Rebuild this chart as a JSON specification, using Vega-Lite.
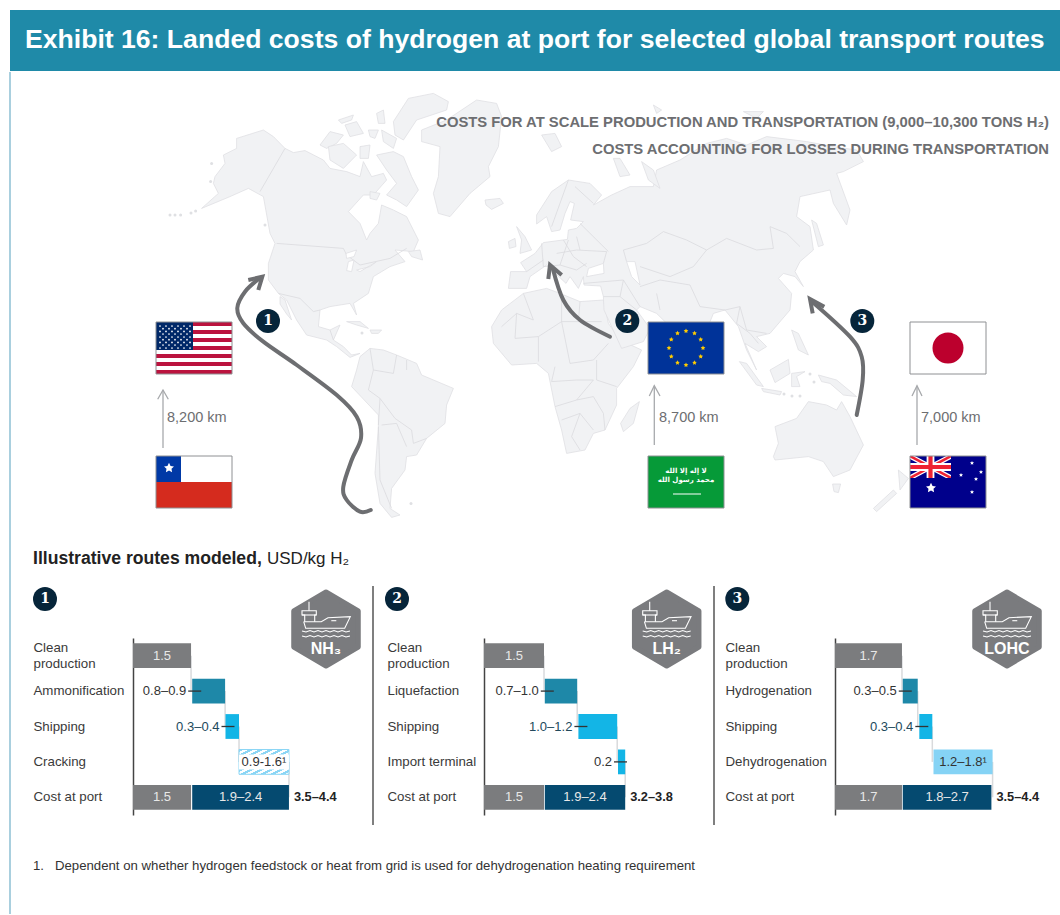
{
"$schema":"https://vega.github.io/schema/vega-lite/v6.json",
"padding":0,
"background":"white",
"bounds":"flush",
"spacing":0,
"resolve":{"scale":{"color":"independent"}},
"config":{"font":"Liberation Sans","view":{"stroke":null}},
"datasets":{
"land":[
{"type":"Feature","properties":{"name":"North America"},"geometry":{"type":"Polygon","coordinates":[[[-157.5,101.7],[-152.5,108.3],[-153.3,112.5],[-146.7,115.8],[-146.7,120.8],[-133.3,125],[-128.3,121.7],[-122.5,115.8],[-118.3,113.7],[-112.5,114.7],[-103.3,110],[-100,105.8],[-91.7,104.2],[-85,101.7],[-83.3,109.2],[-79.2,101.7],[-73.3,103.3],[-71.7,100],[-78.3,92.5],[-83.3,92.5],[-90.8,84.2],[-85,78.3],[-81.7,70],[-80,73.3],[-75.8,78.3],[-74.2,87.5],[-68.3,85],[-61.7,81.7],[-55.8,70],[-58.3,64.2],[-67.5,65],[-62.5,59.2],[-70,56.7],[-78.3,51.7],[-80.8,43.3],[-88.3,38.3],[-86.7,32.5],[-90,38.3],[-100,36.7],[-105,35],[-105.8,26.7],[-100,25],[-95,27.5],[-98.3,20],[-93.3,16.7],[-89.2,12.5],[-85,13.3],[-90,11.3],[-96.7,16.7],[-101.7,20],[-111.7,22.5],[-116.7,30],[-121.7,40],[-125.8,43.3],[-130.8,50],[-130.8,58.3],[-127.5,68.3],[-130,73.3],[-133.3,91.7],[-140.8,95.8],[-150,91.7],[-164.2,85.8],[-155.8,93.3],[-158.3,98.3],[-157.5,101.7]]]}},
{"type":"Feature","properties":{"name":"Baja"},"geometry":{"type":"Polygon","coordinates":[[[-125,41.7],[-122.5,40],[-119.2,30],[-121.7,33],[-125,38],[-125,41.7]]]}},
{"type":"Feature","properties":{"name":"Victoria"},"geometry":{"type":"Polygon","coordinates":[[[-105,117.5],[-100,124.2],[-93.3,122.5],[-96.7,118.3],[-101.7,115.8],[-105,117.5]]]}},
{"type":"Feature","properties":{"name":"Arctic 2"},"geometry":{"type":"Polygon","coordinates":[[[-100.8,116.7],[-93.3,118.3],[-86.7,112.5],[-93.3,105.8],[-100,110],[-100.8,116.7]]]}},
{"type":"Feature","properties":{"name":"Arctic 3"},"geometry":{"type":"Polygon","coordinates":[[[-92.5,127.5],[-86.7,129.2],[-83.3,123.3],[-90,121.7],[-92.5,127.5]]]}},
{"type":"Feature","properties":{"name":"Arctic 4"},"geometry":{"type":"Polygon","coordinates":[[[-95.8,130],[-88.3,132.5],[-89.2,130],[-94.2,128.3],[-95.8,130]]]}},
{"type":"Feature","properties":{"name":"Arctic 5"},"geometry":{"type":"Polygon","coordinates":[[[-85,116.7],[-80,117.5],[-80.8,110.8],[-85,110.8],[-85,116.7]]]}},
{"type":"Feature","properties":{"name":"Arctic 6"},"geometry":{"type":"Polygon","coordinates":[[[-80.8,125],[-75.8,125],[-77.5,120.8],[-80,121.7],[-80.8,125]]]}},
{"type":"Feature","properties":{"name":"Arctic 7"},"geometry":{"type":"Polygon","coordinates":[[[-76.7,133.3],[-73.3,135],[-72.5,128.3],[-75.8,128.3],[-76.7,133.3]]]}},
{"type":"Feature","properties":{"name":"Arctic 8"},"geometry":{"type":"Polygon","coordinates":[[[-74.2,125],[-66.7,120.8],[-68.3,115.8],[-73.3,119.2],[-74.2,125]]]}},
{"type":"Feature","properties":{"name":"Ellesmere"},"geometry":{"type":"Polygon","coordinates":[[[-68.3,129.2],[-60.8,140.8],[-48.3,143.3],[-40.8,139.2],[-41.7,135],[-56.7,130],[-63.3,120],[-67.5,122.5],[-68.3,129.2]]]}},
{"type":"Feature","properties":{"name":"Baffin"},"geometry":{"type":"Polygon","coordinates":[[[-76.7,112.5],[-68.3,114.2],[-63.3,111.7],[-59.2,101.7],[-55.8,95],[-61.7,86.7],[-66.7,90],[-71.7,92.5],[-66.7,98.3],[-71.7,105],[-76.7,112.5]]]}},
{"type":"Feature","properties":{"name":"Southampton"},"geometry":{"type":"Polygon","coordinates":[[[-80,94.2],[-75,93.3],[-76.7,90],[-80,90.8],[-80,94.2]]]}},
{"type":"Feature","properties":{"name":"Newfoundland"},"geometry":{"type":"Polygon","coordinates":[[[-60.8,64.2],[-55,65],[-53.7,60],[-59.2,61.7],[-60.8,64.2]]]}},
{"type":"Feature","properties":{"name":"Greenland"},"geometry":{"type":"Polygon","coordinates":[[[-54.2,125],[-41.7,130],[-26.7,140],[-16.7,138.3],[-14.2,131.7],[-15.8,116.7],[-20.8,106.7],[-20,101.7],[-30,93.3],[-40,81.7],[-45.8,83.3],[-48.3,93.3],[-45.8,101.7],[-45,116.7],[-54.2,119.2],[-54.2,125]]]}},
{"type":"Feature","properties":{"name":"Iceland"},"geometry":{"type":"Polygon","coordinates":[[[-22.5,90],[-15,90.8],[-13.3,88.3],[-19.2,85.3],[-22,87.5],[-22.5,90]]]}},
{"type":"Feature","properties":{"name":"Cuba"},"geometry":{"type":"Polygon","coordinates":[[[-91.7,29.2],[-85,29.2],[-80.8,25.8],[-86.7,27.5],[-91.7,29.2]]]}},
{"type":"Feature","properties":{"name":"Hispaniola"},"geometry":{"type":"Polygon","coordinates":[[[-80,25],[-74.2,25],[-75.8,23.3],[-79.2,23.3],[-80,25]]]}},
{"type":"Feature","properties":{"name":"South America"},"geometry":{"type":"Polygon","coordinates":[[[-85,11.7],[-80,15.8],[-73.3,15],[-66.7,12.5],[-56.7,8.3],[-54.2,2.5],[-38.3,-4.2],[-41.7,-12.5],[-42.5,-21.7],[-51.7,-29.2],[-56.7,-37.5],[-61.7,-38.3],[-62.5,-45],[-69.2,-54.2],[-70,-64.2],[-65,-67.5],[-69.2,-68.7],[-75,-61.7],[-77.5,-46.7],[-75.8,-23.3],[-75.8,-17.5],[-89.2,-3.3],[-86.7,5],[-85,11.7]]]}},
{"type":"Feature","properties":{"name":"Africa"},"geometry":{"type":"Polygon","coordinates":[[[-19.2,26.7],[-14.2,35],[-3.3,43.3],[8.3,45.8],[15,43.3],[25,39.2],[36.7,40],[39.2,28.3],[45,20],[55.8,15],[51.7,6.7],[43.3,-4.2],[43.3,-12.5],[37.5,-25],[31.7,-26.7],[27.5,-35],[18.3,-36.7],[15.8,-25],[12.5,-13.3],[9.2,3.3],[3.3,8.3],[-9.2,7.5],[-18.3,18.3],[-19.2,26.7]]]}},
{"type":"Feature","properties":{"name":"Madagascar"},"geometry":{"type":"Polygon","coordinates":[[[50,-14.2],[54.7,-10.8],[51.7,-21.7],[46.7,-25.8],[45.3,-21.7],[50,-14.2]]]}},
{"type":"Feature","properties":{"name":"Eurasia"},"geometry":{"type":"Polygon","coordinates":[[[-10.8,45.8],[-9.7,54.2],[-1.7,54.2],[-4.7,58.7],[2.5,63.3],[6.7,68.7],[18.7,70.3],[19.2,75],[23.3,75.8],[26.7,79.2],[20.3,80],[22.2,88.3],[20,89.2],[17.5,83.3],[15,75],[10.8,74.2],[8.3,81.7],[3.3,78],[3.3,82.5],[10.8,94.2],[19.2,100],[30,98.3],[35.8,92.5],[31.7,87.5],[40.8,92.5],[50,96.7],[61.7,96.7],[63.3,105],[75,110],[88.3,118.3],[98.3,120.8],[108.3,117.5],[118.3,121.7],[138.3,119.2],[151.7,116.7],[163.3,115],[166.7,109.2],[156.7,104.2],[153.3,103.3],[160,85],[158.3,77.5],[151.7,88.3],[150,95],[135,91.7],[133.3,81.7],[140,76.7],[141.7,65],[135,59.2],[132.5,54.2],[136.7,46.7],[132.5,51.7],[126.7,53.3],[124.2,50.8],[130.8,43.3],[130,35],[120,23.3],[113.3,21.7],[118.3,16.7],[114.2,14.2],[107.5,18.3],[113.3,5],[108.3,15],[104.2,26.7],[97.5,35],[91.7,33.3],[85,16.7],[78.3,5],[73.3,16.7],[70,26.7],[63.3,33.3],[55,36.7],[53.3,35],[60,25.8],[56.7,19.2],[45.8,15.8],[37,35],[36.7,41.7],[35.3,47],[27,47.5],[26.7,51.7],[24.2,45.8],[20,51.7],[18,48.3],[8.3,57.5],[0,51.7],[-1.7,45.8],[-10.8,45.8]]]}},
{"type":"Feature","properties":{"name":"Britain"},"geometry":{"type":"Polygon","coordinates":[[[-6.7,76.7],[-2.5,71.7],[0.8,65],[-5,63.3],[-4.2,70],[-6.7,76.7]]]}},
{"type":"Feature","properties":{"name":"Ireland"},"geometry":{"type":"Polygon","coordinates":[[[-10.8,69.2],[-7.5,70.8],[-7,66.7],[-10.3,65.8],[-10.8,69.2]]]}},
{"type":"Feature","properties":{"name":"Svalbard"},"geometry":{"type":"Polygon","coordinates":[[[5.8,122.5],[12.5,123.3],[15.8,116.7],[10.8,114.2],[5.8,122.5]]]}},
{"type":"Feature","properties":{"name":"Novaya Zemlya"},"geometry":{"type":"Polygon","coordinates":[[[41.7,110.8],[45,110.8],[50,102.5],[45,101.7],[41.7,110.8]]]}},
{"type":"Feature","properties":{"name":"Yamal"},"geometry":{"type":"Polygon","coordinates":[[[55.8,109.2],[61.7,105],[65,95.8],[59.2,100],[55.8,109.2]]]}},
{"type":"Feature","properties":{"name":"Franz Josef"},"geometry":{"type":"Polygon","coordinates":[[[61.7,137.5],[65.8,135],[63.3,133.3],[61.7,137.5]]]}},
{"type":"Feature","properties":{"name":"Severnaya"},"geometry":{"type":"Polygon","coordinates":[[[106.7,134.2],[116.7,134.2],[113.3,130.8],[106.7,134.2]]]}},
{"type":"Feature","properties":{"name":"Sakhalin"},"geometry":{"type":"Polygon","coordinates":[[[140.8,80],[143.3,78.3],[146.7,67.5],[144.2,66.7],[140.8,80]]]}},
{"type":"Feature","properties":{"name":"Philippines"},"geometry":{"type":"Polygon","coordinates":[[[130.8,25],[134.2,23.3],[139.2,12.5],[134.2,15],[130.8,25]]]}},
{"type":"Feature","properties":{"name":"Sumatra"},"geometry":{"type":"Polygon","coordinates":[[[104.7,9.2],[108.3,8.3],[116.7,-3.3],[113.3,-2.5],[104.7,9.2]]]}},
{"type":"Feature","properties":{"name":"Java"},"geometry":{"type":"Polygon","coordinates":[[[115.8,-4.2],[125.8,-5.8],[125,-7.5],[116.7,-5.8],[115.8,-4.2]]]}},
{"type":"Feature","properties":{"name":"Borneo"},"geometry":{"type":"Polygon","coordinates":[[[120,5],[129.2,10.3],[130,3.3],[122.5,-1.3],[120,5]]]}},
{"type":"Feature","properties":{"name":"Sulawesi"},"geometry":{"type":"Polygon","coordinates":[[[130.8,3.3],[137.5,4.2],[133.3,1.7],[135,-3.3],[130.8,-3.3],[130.8,3.3]]]}},
{"type":"Feature","properties":{"name":"New Guinea"},"geometry":{"type":"Polygon","coordinates":[[[144.2,2.5],[153.3,0],[163.3,-8.3],[156.7,-7.5],[150,-1.7],[145.8,-0.8],[144.2,2.5]]]}},
{"type":"Feature","properties":{"name":"Australia"},"geometry":{"type":"Polygon","coordinates":[[[122.5,-23.3],[133.3,-19.2],[139.2,-10.8],[148.3,-12.5],[153.3,-15],[155.8,-10.8],[160,-18.3],[166.7,-32.5],[160,-45],[151.7,-48.3],[146.7,-40.8],[139.2,-38.3],[122.5,-40],[121.7,-38.3],[124.2,-31.7],[122.5,-23.3]]]}},
{"type":"Feature","properties":{"name":"Tasmania"},"geometry":{"type":"Polygon","coordinates":[[[151.3,-52],[155.3,-52],[154.2,-56.3],[152,-55.8],[151.3,-52]]]}},
{"type":"Feature","properties":{"name":"NZ South"},"geometry":{"type":"Polygon","coordinates":[[[171.7,-64.2],[181.7,-55],[183.3,-56.7],[173.3,-65.8],[171.7,-64.2]]]}},
{"type":"Feature","properties":{"name":"NZ North"},"geometry":{"type":"Polygon","coordinates":[[[184.2,-45],[189.2,-49.2],[185,-55],[184.2,-45]]]}}
],
"seas":[
{"type":"Feature","properties":{"name":"Black Sea"},"geometry":{"type":"Polygon","coordinates":[[[29.2,55.8],[36.7,58.3],[37,53.3],[28.3,51.7],[29.2,55.8]]]}},
{"type":"Feature","properties":{"name":"Caspian"},"geometry":{"type":"Polygon","coordinates":[[[48.3,59.2],[52.5,59.2],[55,47.5],[50.8,51.7],[48.3,59.2]]]}},
{"type":"Feature","properties":{"name":"Superior"},"geometry":{"type":"Polygon","coordinates":[[[-92,63.3],[-86.7,65],[-88,61.7],[-91.7,60.8],[-92,63.3]]]}},
{"type":"Feature","properties":{"name":"Michigan"},"geometry":{"type":"Polygon","coordinates":[[[-90.8,59.2],[-88,60],[-89.2,54.2],[-91.7,54.7],[-90.8,59.2]]]}},
{"type":"Feature","properties":{"name":"Erie"},"geometry":{"type":"Polygon","coordinates":[[[-86.7,55],[-80,56.7],[-76.7,59.2],[-85,54.2],[-86.7,55]]]}}
],
"borders":[
{"type":"Feature","properties":{"name":"North and South America"},"geometry":{"type":"MultiLineString","coordinates":[
[[-122.5,115.8],[-135,94.2]],
[[-126.7,68.3],[-93.3,65.8],[-91.7,62.5],[-85,57.5],[-70,60.8],[-61.7,65.8]],
[[-125.8,43.3],[-115,40.8],[-108.3,34.2],[-105,35]],
[[-100,25],[-98.3,20]],
[[-80,15.8],[-78.3,5],[-80.8,-5]],
[[-80.8,-5],[-75,-9.2],[-67.5,-19.2],[-59.2,-25],[-58.3,-31.7],[-51.7,-29.2]],
[[-75.8,-23.3],[-75,-50],[-69.2,-64.2]],
[[-74.2,-22.5],[-66.7,-21.7],[-61.7,-33.3]],
[[-75,-9.2],[-75.8,-22.5]],
[[-78.3,5],[-68.3,3.3],[-66.7,12.5]],
[[-61.7,5],[-61.7,10]]
]}},
{"type":"Feature","properties":{"name":"Africa"},"geometry":{"type":"MultiLineString","coordinates":[
[[-3.3,43.3],[1.7,30],[-6.7,33.3],[-14.2,26.7]],
[[-6.7,33.3],[-7.5,20.8],[4.2,21.7],[15.8,29.2],[15.8,43.3]],
[[4.2,21.7],[4.2,9.2]],
[[15.8,29.2],[24.2,29.2],[25,39.2]],
[[24.2,29.2],[35.8,29.2]],
[[15.8,29.2],[20,8.3],[31.7,10],[39.2,18.3]],
[[12.5,6.7],[10.8,-0.8],[23.3,0],[31.7,0]],
[[33.3,10],[33.3,0],[43.3,-3.3]],
[[12.5,-13.3],[23.3,-10],[31.7,-8.3],[36.7,-16.7],[37.5,-25]],
[[15.8,-20],[25,-16.7],[31.7,-25]],
[[25,-16.7],[20.8,-28.3],[25,-35]],
[[31.7,0],[23.3,-10]]
]}},
{"type":"Feature","properties":{"name":"Eurasia"},"geometry":{"type":"MultiLineString","coordinates":[
[[36.7,41.7],[45,41.7],[53.3,35]],
[[26.7,48.3],[46.7,50],[55,36.7]],
[[45,41.7],[46.7,50]],
[[63.3,43.3],[65,35]],
[[55,46.7],[65,50],[80,47.5],[85,36.7]],
[[46.7,65],[58.3,68.3],[66.7,74.2],[78.3,70],[88.3,65],[98.3,70.8],[113.3,65],[121.7,65.8],[120,76.7],[128.3,73.3],[135,66.7]],
[[46.7,65],[48.3,59.2]],
[[55,56.7],[70,51.7],[81.7,56.7],[88.3,65]],
[[85,36.7],[97.5,35],[105,36.7],[108.3,25],[118.3,23.3]],
[[105,36.7],[103.3,28.3],[110,23.3],[114.2,18.3]],
[[5.8,68.3],[6.7,56.7],[15,57.5],[19.2,70]],
[[-1.7,54.2],[6.7,60]],
[[13.3,63.3],[23.3,65],[38.3,64.2],[36.7,58.3]],
[[16.7,70],[21.7,61.7],[28.3,56.7]],
[[23.3,71.7],[25,65]],
[[25,78.3],[39.2,64.2]],
[[15,57.5],[23.3,55],[28.3,58.3]],
[[19.2,100],[10.8,76.7]],
[[22.5,96.7],[31.7,88.3]]
]}}
],
"flags":[
{"type":"Feature","properties":{"part":"white"},"geometry":{"type":"Polygon","coordinates":[[[-187,29],[-149,29],[-149,3],[-187,3],[-187,29]]]}},
{"type":"Feature","properties":{"part":"usRed"},"geometry":{"type":"MultiPolygon","coordinates":[[[[-187,29],[-149,29],[-149,27],[-187,27],[-187,29]]],[[[-187,25],[-149,25],[-149,23],[-187,23],[-187,25]]],[[[-187,21],[-149,21],[-149,19],[-187,19],[-187,21]]],[[[-187,17],[-149,17],[-149,15],[-187,15],[-187,17]]],[[[-187,13],[-149,13],[-149,11],[-187,11],[-187,13]]],[[[-187,9],[-149,9],[-149,7],[-187,7],[-187,9]]],[[[-187,5],[-149,5],[-149,3],[-187,3],[-187,5]]]]}},
{"type":"Feature","properties":{"part":"usBlue"},"geometry":{"type":"Polygon","coordinates":[[[-187,29],[-168.5,29],[-168.5,15],[-187,15],[-187,29]]]}},
{"type":"Feature","properties":{"part":"white"},"geometry":{"type":"Polygon","coordinates":[[[-187,-38],[-149,-38],[-149,-51],[-187,-51],[-187,-38]]]}},
{"type":"Feature","properties":{"part":"chileRed"},"geometry":{"type":"Polygon","coordinates":[[[-187,-51],[-149,-51],[-149,-64],[-187,-64],[-187,-51]]]}},
{"type":"Feature","properties":{"part":"chileBlue"},"geometry":{"type":"Polygon","coordinates":[[[-187,-38],[-174.5,-38],[-174.5,-51],[-187,-51],[-187,-38]]]}},
{"type":"Feature","properties":{"part":"euBlue"},"geometry":{"type":"Polygon","coordinates":[[[59,29],[97,29],[97,3],[59,3],[59,29]]]}},
{"type":"Feature","properties":{"part":"saudiGreen"},"geometry":{"type":"Polygon","coordinates":[[[59,-38],[97,-38],[97,-64],[59,-64],[59,-38]]]}},
{"type":"Feature","properties":{"part":"white"},"geometry":{"type":"Polygon","coordinates":[[[190,29],[228,29],[228,3],[190,3],[190,29]]]}},
{"type":"Feature","properties":{"part":"navy"},"geometry":{"type":"Polygon","coordinates":[[[190,-38],[228,-38],[228,-64],[190,-64],[190,-38]]]}},
{"type":"Feature","properties":{"part":"white"},"geometry":{"type":"Polygon","coordinates":[[[190,-38],[192.5,-38],[210.5,-47.5],[210.5,-49],[208,-49],[190,-39.5],[190,-38]]]}},
{"type":"Feature","properties":{"part":"white"},"geometry":{"type":"Polygon","coordinates":[[[190,-49],[190,-47.5],[208,-38],[210.5,-38],[210.5,-39.5],[192.5,-49],[190,-49]]]}},
{"type":"Feature","properties":{"part":"ukRed"},"geometry":{"type":"Polygon","coordinates":[[[190,-38],[191.3,-38],[210.5,-48.3],[210.5,-49],[209.2,-49],[190,-38.7],[190,-38]]]}},
{"type":"Feature","properties":{"part":"ukRed"},"geometry":{"type":"Polygon","coordinates":[[[190,-49],[190,-48.3],[209.2,-38],[210.5,-38],[210.5,-38.7],[191.3,-49],[190,-49]]]}},
{"type":"Feature","properties":{"part":"white"},"geometry":{"type":"Polygon","coordinates":[[[198.3,-38],[202.2,-38],[202.2,-49],[198.3,-49],[198.3,-38]]]}},
{"type":"Feature","properties":{"part":"white"},"geometry":{"type":"Polygon","coordinates":[[[190,-41.5],[210.5,-41.5],[210.5,-45.5],[190,-45.5],[190,-41.5]]]}},
{"type":"Feature","properties":{"part":"ukRed"},"geometry":{"type":"Polygon","coordinates":[[[199.2,-38],[201.3,-38],[201.3,-49],[199.2,-49],[199.2,-38]]]}},
{"type":"Feature","properties":{"part":"ukRed"},"geometry":{"type":"Polygon","coordinates":[[[190,-42.5],[210.5,-42.5],[210.5,-44.5],[190,-44.5],[190,-42.5]]]}}
],
"frames":[
{"type":"Feature","properties":{"name":"frames"},"geometry":{"type":"MultiPolygon","coordinates":[[[[-187,29],[-149,29],[-149,3],[-187,3],[-187,29]]],[[[-187,-38],[-149,-38],[-149,-64],[-187,-64],[-187,-38]]],[[[59,29],[97,29],[97,3],[59,3],[59,29]]],[[[59,-38],[97,-38],[97,-64],[59,-64],[59,-38]]],[[[190,29],[228,29],[228,3],[190,3],[190,29]]],[[[190,-38],[228,-38],[228,-64],[190,-64],[190,-38]]]]}}
],
"shipIcon":[
{"seg":"hull","ord":1,"u":-22.3,"v":7.3},{"seg":"hull","ord":2,"u":-4.7,"v":7.3},{"seg":"hull","ord":3,"u":2,"v":11.3},{"seg":"hull","ord":4,"u":24.3,"v":12.3},{"seg":"hull","ord":5,"u":18.7,"v":0.7},{"seg":"hull","ord":6,"u":-20.3,"v":0.7},{"seg":"hull","ord":7,"u":-22.3,"v":7.3},
{"seg":"bridge","ord":1,"u":-21.3,"v":7.3},{"seg":"bridge","ord":2,"u":-21.3,"v":14},{"seg":"bridge","ord":3,"u":-24,"v":14},{"seg":"bridge","ord":4,"u":-24,"v":18.3},{"seg":"bridge","ord":5,"u":-9.7,"v":18.3},{"seg":"bridge","ord":6,"u":-9.7,"v":14},{"seg":"bridge","ord":7,"u":-11.3,"v":14},{"seg":"bridge","ord":8,"u":-11.3,"v":7.3},
{"seg":"deck","ord":1,"u":-24,"v":14},{"seg":"deck","ord":2,"u":-9.7,"v":14},
{"seg":"mast","ord":1,"u":-17,"v":27.3},{"seg":"mast","ord":2,"u":-17,"v":18.3},
{"seg":"window","ord":1,"u":5.3,"v":8.3},{"seg":"window","ord":2,"u":10.3,"v":8.3},
{"seg":"wave1","ord":1,"u":-24,"v":-2},{"seg":"wave1","ord":2,"u":-20,"v":-3},{"seg":"wave1","ord":3,"u":-16,"v":-1.5},{"seg":"wave1","ord":4,"u":-12,"v":-3},{"seg":"wave1","ord":5,"u":-8,"v":-1.5},{"seg":"wave1","ord":6,"u":-4,"v":-3},{"seg":"wave1","ord":7,"u":0,"v":-1.5},{"seg":"wave1","ord":8,"u":4,"v":-3},{"seg":"wave1","ord":9,"u":8,"v":-1.5},{"seg":"wave1","ord":10,"u":12,"v":-3},{"seg":"wave1","ord":11,"u":16,"v":-1.5},{"seg":"wave1","ord":12,"u":20,"v":-3},{"seg":"wave1","ord":13,"u":24,"v":-2},
{"seg":"wave2","ord":1,"u":-24,"v":-7},{"seg":"wave2","ord":2,"u":-20,"v":-8},{"seg":"wave2","ord":3,"u":-16,"v":-6.5},{"seg":"wave2","ord":4,"u":-12,"v":-8},{"seg":"wave2","ord":5,"u":-8,"v":-6.5},{"seg":"wave2","ord":6,"u":-4,"v":-8},{"seg":"wave2","ord":7,"u":0,"v":-6.5},{"seg":"wave2","ord":8,"u":4,"v":-8},{"seg":"wave2","ord":9,"u":8,"v":-6.5},{"seg":"wave2","ord":10,"u":12,"v":-8},{"seg":"wave2","ord":11,"u":16,"v":-6.5},{"seg":"wave2","ord":12,"u":20,"v":-8},{"seg":"wave2","ord":13,"u":24,"v":-7}
]
},
"vconcat":[
{
"width":1060,"height":586,
"projection":{"type":"identity","reflectY":true,"scale":2,"translate":[530,380]},
"layer":[
{"data":{"name":"land"},"mark":{"type":"geoshape","fill":"#F1F2F4","stroke":"#DFE0E3","strokeWidth":0.8,"strokeJoin":"round"}},
{"data":{"name":"borders"},"mark":{"type":"geoshape","filled":false,"stroke":"#DADBDE","strokeWidth":0.8}},
{"data":{"name":"seas"},"mark":{"type":"geoshape","fill":"white","stroke":"#DFE0E3","strokeWidth":0.8}},
{"data":{"values":[{"lon":-180,"lat":82.5},{"lon":-177.5,"lat":82.5},{"lon":-174.7,"lat":82.5},{"lon":-169.5,"lat":83.5},{"lon":-167.2,"lat":84.5},{"lon":-159.2,"lat":108.3},{"lon":-159.7,"lat":99.2},{"lon":-132.5,"lat":77.5},{"lon":-59.5,"lat":-61.7},{"lon":-84,"lat":23.5},{"lon":127,"lat":-7},{"lon":131,"lat":-8},{"lon":135,"lat":-8},{"lon":140,"lat":3},{"lon":142,"lat":-1}]},"mark":{"type":"point","filled":true,"color":"#DFE0E3","size":9,"opacity":1},"encoding":{"longitude":{"field":"lon","type":"quantitative"},"latitude":{"field":"lat","type":"quantitative"}}},
{"data":{"values":[{"lon":-260,"lat":154,"ord":1},{"lon":-260,"lat":-267,"ord":2}]},"mark":{"type":"line","clip":false,"color":"#8DBFD3","strokeWidth":1.5},"encoding":{"longitude":{"field":"lon","type":"quantitative"},"latitude":{"field":"lat","type":"quantitative"},"order":{"field":"ord"}}},
{"data":{"values":[{"type":"Feature","properties":{"name":"header"},"geometry":{"type":"Polygon","coordinates":[[[-260,185],[265,185],[265,154.5],[-260,154.5],[-260,185]]]}}]},"mark":{"type":"geoshape","fill":"#1F8AA8"}},
{"data":{"values":[{"t":"Exhibit 16: Landed costs of hydrogen at port for selected global transport routes","lon":-252.5,"lat":170}]},"mark":{"type":"text","align":"left","baseline":"middle","fontWeight":"bold","fontSize":26.6,"color":"white"},"encoding":{"longitude":{"field":"lon","type":"quantitative"},"latitude":{"field":"lat","type":"quantitative"},"text":{"field":"t"}}},
{"data":{"values":[{"t":"COSTS FOR AT SCALE PRODUCTION AND TRANSPORTATION (9,000–10,300 TONS H₂)","lon":259.5,"lat":128.5},{"t":"COSTS ACCOUNTING FOR LOSSES DURING TRANSPORTATION","lon":259.5,"lat":115}]},"mark":{"type":"text","align":"right","baseline":"middle","fontWeight":"bold","fontSize":14.8,"color":"#6D6E71"},"encoding":{"longitude":{"field":"lon","type":"quantitative"},"latitude":{"field":"lat","type":"quantitative"},"text":{"field":"t"}}},
{"data":{"name":"flags"},"mark":{"type":"geoshape"},"encoding":{"color":{"field":"properties.part","type":"nominal","legend":null,"scale":{"domain":["white","usRed","usBlue","chileRed","chileBlue","euBlue","saudiGreen","navy","ukRed"],"range":["#FFFFFF","#BB133E","#002868","#D52B1E","#0039A6","#003399","#069A38","#00008B","#EE2233"]}}}},
{"data":{"values":[
{"lon":-185,"lat":27},{"lon":-182,"lat":27},{"lon":-179,"lat":27},{"lon":-176,"lat":27},{"lon":-173,"lat":27},{"lon":-170,"lat":27},
{"lon":-183.5,"lat":25.65},{"lon":-180.5,"lat":25.65},{"lon":-177.5,"lat":25.65},{"lon":-174.5,"lat":25.65},{"lon":-171.5,"lat":25.65},
{"lon":-185,"lat":24.3},{"lon":-182,"lat":24.3},{"lon":-179,"lat":24.3},{"lon":-176,"lat":24.3},{"lon":-173,"lat":24.3},{"lon":-170,"lat":24.3},
{"lon":-183.5,"lat":23},{"lon":-180.5,"lat":23},{"lon":-177.5,"lat":23},{"lon":-174.5,"lat":23},{"lon":-171.5,"lat":23},
{"lon":-185,"lat":21.5},{"lon":-182,"lat":21.5},{"lon":-179,"lat":21.5},{"lon":-176,"lat":21.5},{"lon":-173,"lat":21.5},{"lon":-170,"lat":21.5},
{"lon":-183.5,"lat":20.15},{"lon":-180.5,"lat":20.15},{"lon":-177.5,"lat":20.15},{"lon":-174.5,"lat":20.15},{"lon":-171.5,"lat":20.15},
{"lon":-185,"lat":18.8},{"lon":-182,"lat":18.8},{"lon":-179,"lat":18.8},{"lon":-176,"lat":18.8},{"lon":-173,"lat":18.8},{"lon":-170,"lat":18.8},
{"lon":-183.5,"lat":17.5},{"lon":-180.5,"lat":17.5},{"lon":-177.5,"lat":17.5},{"lon":-174.5,"lat":17.5},{"lon":-171.5,"lat":17.5},
{"lon":-185,"lat":16},{"lon":-182,"lat":16},{"lon":-179,"lat":16},{"lon":-176,"lat":16},{"lon":-173,"lat":16},{"lon":-170,"lat":16}
]},"mark":{"type":"point","filled":true,"color":"white","size":3,"opacity":1},"encoding":{"longitude":{"field":"lon","type":"quantitative"},"latitude":{"field":"lat","type":"quantitative"}}},
{"data":{"values":[{"lon":-180.5,"lat":-44},{"lon":200.5,"lat":-54}]},"mark":{"type":"point","filled":true,"color":"white","size":110,"opacity":1,"shape":"M0,-1L0.294,-0.405L0.951,-0.309L0.476,0.155L0.588,0.809L0,0.5L-0.588,0.809L-0.476,0.155L-0.951,-0.309L-0.294,-0.405Z"},"encoding":{"longitude":{"field":"lon","type":"quantitative"},"latitude":{"field":"lat","type":"quantitative"}}},
{"data":{"values":[{"lon":221,"lat":-41.5},{"lon":225.5,"lat":-46},{"lon":215.5,"lat":-47.5},{"lon":223,"lat":-49.5},{"lon":221,"lat":-56}]},"mark":{"type":"point","filled":true,"color":"white","size":18,"opacity":1,"shape":"M0,-1L0.294,-0.405L0.951,-0.309L0.476,0.155L0.588,0.809L0,0.5L-0.588,0.809L-0.476,0.155L-0.951,-0.309L-0.294,-0.405Z"},"encoding":{"longitude":{"field":"lon","type":"quantitative"},"latitude":{"field":"lat","type":"quantitative"}}},
{"data":{"values":[{"lon":78,"lat":24.5},{"lon":82.25,"lat":23.36},{"lon":85.36,"lat":20.25},{"lon":86.5,"lat":16},{"lon":85.36,"lat":11.75},{"lon":82.25,"lat":8.64},{"lon":78,"lat":7.5},{"lon":73.75,"lat":8.64},{"lon":70.64,"lat":11.75},{"lon":69.5,"lat":16},{"lon":70.64,"lat":20.25},{"lon":73.75,"lat":23.36}]},"mark":{"type":"point","filled":true,"color":"#FFCC00","size":24,"opacity":1,"shape":"M0,-1L0.294,-0.405L0.951,-0.309L0.476,0.155L0.588,0.809L0,0.5L-0.588,0.809L-0.476,0.155L-0.951,-0.309L-0.294,-0.405Z"},"encoding":{"longitude":{"field":"lon","type":"quantitative"},"latitude":{"field":"lat","type":"quantitative"}}},
{"data":{"values":[{"lon":209,"lat":16}]},"mark":{"type":"point","filled":true,"color":"#BC002D","size":961,"opacity":1},"encoding":{"longitude":{"field":"lon","type":"quantitative"},"latitude":{"field":"lat","type":"quantitative"}}},
{"data":{"values":[{"t":"لا إله إلا الله","lon":78,"lat":-45.6},{"t":"محمد رسول الله","lon":78,"lat":-50}]},"mark":{"type":"text","align":"center","baseline":"middle","fontWeight":"bold","fontSize":7,"color":"white","font":"DejaVu Sans"},"encoding":{"longitude":{"field":"lon","type":"quantitative"},"latitude":{"field":"lat","type":"quantitative"},"text":{"field":"t"}}},
{"data":{"values":[{"lon":71.5,"lat":-57,"ord":1},{"lon":85.5,"lat":-57,"ord":2}]},"mark":{"type":"line","color":"white","strokeWidth":1},"encoding":{"longitude":{"field":"lon","type":"quantitative"},"latitude":{"field":"lat","type":"quantitative"},"order":{"field":"ord"}}},
{"data":{"name":"frames"},"mark":{"type":"geoshape","filled":false,"stroke":"#8E9093","strokeWidth":1}},
{"data":{"values":[
{"id":"a1","ord":1,"lon":-183.5,"lat":-34},{"id":"a1","ord":2,"lon":-183.5,"lat":-5},
{"id":"h1","ord":1,"lon":-186.15,"lat":-9.65},{"id":"h1","ord":2,"lon":-183.5,"lat":-5},{"id":"h1","ord":3,"lon":-180.85,"lat":-9.65},
{"id":"a2","ord":1,"lon":62.15,"lat":-32.5},{"id":"a2","ord":2,"lon":62.15,"lat":-2.85},
{"id":"h2","ord":1,"lon":59.65,"lat":-8},{"id":"h2","ord":2,"lon":62.15,"lat":-2.85},{"id":"h2","ord":3,"lon":65,"lat":-8},
{"id":"a3","ord":1,"lon":193.5,"lat":-32.5},{"id":"a3","ord":2,"lon":193.5,"lat":-2.85},
{"id":"h3","ord":1,"lon":191,"lat":-8},{"id":"h3","ord":2,"lon":193.5,"lat":-2.85},{"id":"h3","ord":3,"lon":196,"lat":-8}
]},"mark":{"type":"line","color":"#A7A9AC","strokeWidth":1.3},"encoding":{"longitude":{"field":"lon","type":"quantitative"},"latitude":{"field":"lat","type":"quantitative"},"detail":{"field":"id"},"order":{"field":"ord"}}},
{"data":{"values":[{"t":"8,200 km","lon":-181.5,"lat":-18.8},{"t":"8,700 km","lon":64.5,"lat":-18.8},{"t":"7,000 km","lon":195.5,"lat":-18.8}]},"mark":{"type":"text","align":"left","baseline":"middle","fontSize":14.5,"color":"#6D6E71"},"encoding":{"longitude":{"field":"lon","type":"quantitative"},"latitude":{"field":"lat","type":"quantitative"},"text":{"field":"t"}}},
{"data":{"values":[
{"route":1,"ord":1,"lon":-79.65,"lat":-65},{"route":1,"ord":2,"lon":-85,"lat":-65.85},{"route":1,"ord":3,"lon":-91.65,"lat":-60},{"route":1,"ord":4,"lon":-93.35,"lat":-53.35},{"route":1,"ord":5,"lon":-89.15,"lat":-40},{"route":1,"ord":6,"lon":-84.5,"lat":-29},{"route":1,"ord":7,"lon":-86.65,"lat":-18.35},{"route":1,"ord":8,"lon":-96.65,"lat":-7.5},{"route":1,"ord":9,"lon":-116.65,"lat":7.5},{"route":1,"ord":10,"lon":-133.35,"lat":19.15},{"route":1,"ord":11,"lon":-143.35,"lat":28.35},{"route":1,"ord":12,"lon":-146.35,"lat":36},{"route":1,"ord":13,"lon":-142.5,"lat":44.15},{"route":1,"ord":14,"lon":-135,"lat":51},
{"route":2,"ord":1,"lon":40,"lat":21.65},{"route":2,"ord":2,"lon":25,"lat":30},{"route":2,"ord":3,"lon":16.65,"lat":40},{"route":2,"ord":4,"lon":11.35,"lat":55.85},
{"route":3,"ord":1,"lon":163.35,"lat":-17.5},{"route":3,"ord":2,"lon":166.35,"lat":0},{"route":3,"ord":3,"lon":165.85,"lat":11.65},{"route":3,"ord":4,"lon":160,"lat":21.65},{"route":3,"ord":5,"lon":141.65,"lat":38.65}
]},"mark":{"type":"line","color":"#6D6E71","strokeWidth":4,"strokeCap":"round","interpolate":"cardinal"},"encoding":{"longitude":{"field":"lon","type":"quantitative"},"latitude":{"field":"lat","type":"quantitative"},"detail":{"field":"route"},"order":{"field":"ord"}}},
{"data":{"values":[
{"route":1,"ord":1,"lon":-140.85,"lat":50},{"route":1,"ord":2,"lon":-133.85,"lat":51.65},{"route":1,"ord":3,"lon":-135.85,"lat":45},
{"route":2,"ord":1,"lon":15.85,"lat":52.5},{"route":2,"ord":2,"lon":10,"lat":57.5},{"route":2,"ord":3,"lon":9.15,"lat":50.5},
{"route":3,"ord":1,"lon":147.15,"lat":36.65},{"route":3,"ord":2,"lon":140,"lat":40.5},{"route":3,"ord":3,"lon":141.35,"lat":33.35}
]},"mark":{"type":"line","color":"#6D6E71","strokeWidth":4,"strokeJoin":"miter"},"encoding":{"longitude":{"field":"lon","type":"quantitative"},"latitude":{"field":"lat","type":"quantitative"},"detail":{"field":"route"},"order":{"field":"ord"}}},
{"data":{"values":[{"n":"1","lon":-131,"lat":29.5},{"n":"2","lon":48.65,"lat":29.5},{"n":"3","lon":166.15,"lat":29.5},{"n":"1","lon":-242.5,"lat":-109.5},{"n":"2","lon":-66.5,"lat":-109.5},{"n":"3","lon":103.65,"lat":-109.5}]},"mark":{"type":"point","clip":false,"filled":true,"color":"#06253A","size":576,"opacity":1},"encoding":{"longitude":{"field":"lon","type":"quantitative"},"latitude":{"field":"lat","type":"quantitative"}}},
{"data":{"values":[{"n":"1","lon":-131,"lat":29.5},{"n":"2","lon":48.65,"lat":29.5},{"n":"3","lon":166.15,"lat":29.5},{"n":"1","lon":-242.5,"lat":-109.5},{"n":"2","lon":-66.5,"lat":-109.5},{"n":"3","lon":103.65,"lat":-109.5}]},"mark":{"type":"text","clip":false,"font":"DejaVu Serif","fontWeight":"bold","fontSize":14,"color":"white","align":"center","baseline":"middle"},"encoding":{"longitude":{"field":"lon","type":"quantitative"},"latitude":{"field":"lat","type":"quantitative"},"text":{"field":"n"}}},
{"data":{"values":[{"t":"Illustrative routes modeled,","lon":-248.5,"lat":-89.5}]},"mark":{"type":"text","align":"left","baseline":"middle","fontWeight":"bold","fontSize":17.6,"color":"#222222"},"encoding":{"longitude":{"field":"lon","type":"quantitative"},"latitude":{"field":"lat","type":"quantitative"},"text":{"field":"t"}}},
{"data":{"values":[{"t":"USD/kg H₂","lon":-131.5,"lat":-89.5}]},"mark":{"type":"text","align":"left","baseline":"middle","fontSize":17,"color":"#222222"},"encoding":{"longitude":{"field":"lon","type":"quantitative"},"latitude":{"field":"lat","type":"quantitative"},"text":{"field":"t"}}},
{"data":{"values":[{"lon":-102,"lat":-124.5},{"lon":68.35,"lat":-124.5},{"lon":238.5,"lat":-124.5}]},"mark":{"type":"point","clip":false,"filled":true,"fill":"#7A7B7E","stroke":"#7A7B7E","strokeWidth":5,"strokeJoin":"round","opacity":1,"size":5476,"shape":"M0,-1L0.872,-0.487L0.872,0.487L0,1L-0.872,0.487L-0.872,-0.487Z"},"encoding":{"longitude":{"field":"lon","type":"quantitative"},"latitude":{"field":"lat","type":"quantitative"}}},
{"data":{"name":"shipIcon"},"transform":[{"calculate":"datum.u/2-102","as":"lon"},{"calculate":"datum.v/2-124.5","as":"lat"}],"mark":{"type":"line","clip":false,"color":"white","strokeWidth":1.1},"encoding":{"longitude":{"field":"lon","type":"quantitative"},"latitude":{"field":"lat","type":"quantitative"},"detail":{"field":"seg"},"order":{"field":"ord"}}},
{"data":{"name":"shipIcon"},"transform":[{"calculate":"datum.u/2+68.35","as":"lon"},{"calculate":"datum.v/2-124.5","as":"lat"}],"mark":{"type":"line","clip":false,"color":"white","strokeWidth":1.1},"encoding":{"longitude":{"field":"lon","type":"quantitative"},"latitude":{"field":"lat","type":"quantitative"},"detail":{"field":"seg"},"order":{"field":"ord"}}},
{"data":{"name":"shipIcon"},"transform":[{"calculate":"datum.u/2+238.5","as":"lon"},{"calculate":"datum.v/2-124.5","as":"lat"}],"mark":{"type":"line","clip":false,"color":"white","strokeWidth":1.1},"encoding":{"longitude":{"field":"lon","type":"quantitative"},"latitude":{"field":"lat","type":"quantitative"},"detail":{"field":"seg"},"order":{"field":"ord"}}},
{"data":{"values":[{"t":"NH₃","lon":-102,"lat":-134.5},{"t":"LH₂","lon":68.35,"lat":-134.5},{"t":"LOHC","lon":238.5,"lat":-134.5}]},"mark":{"type":"text","clip":false,"align":"center","baseline":"middle","fontWeight":"bold","fontSize":16,"color":"white"},"encoding":{"longitude":{"field":"lon","type":"quantitative"},"latitude":{"field":"lat","type":"quantitative"},"text":{"field":"t"}}}
]
},
{
"hconcat":[
{
"width":373,"height":239,
"data":{"values":[
{"step":"Clean production","start":0,"end":1.5,"mid":0.75,"kind":"clean","label":"1.5","place":"in","next":"Ammonification"},
{"step":"Ammonification","start":1.53,"end":2.38,"mid":1.955,"kind":"convert","label":"0.8–0.9","place":"out","next":"Shipping"},
{"step":"Shipping","start":2.39,"end":2.74,"mid":2.565,"kind":"ship","label":"0.3–0.4","place":"out","next":"Cracking"},
{"step":"Cracking","start":2.74,"end":4.03,"mid":3.385,"kind":"hatch","label":"0.9-1.6¹","place":"dark","next":"Cost at port"},
{"step":"Cost at port","start":0,"end":1.5,"mid":0.75,"kind":"clean","label":"1.5","place":"in"},
{"step":"Cost at port","start":1.53,"end":4.03,"mid":2.78,"kind":"port","label":"1.9–2.4","place":"in","total":"3.5–4.4"}
]},
"layer":[
{"transform":[{"filter":"datum.next"}],"mark":{"type":"rule","color":"#D9DADC","strokeWidth":1.5},"encoding":{"x":{"field":"end","type":"quantitative","axis":null,"scale":{"domain":[-3.437,6.202],"nice":false,"zero":false}},"y":{"field":"step","type":"nominal","scale":{"domain":["Clean production","Ammonification","Shipping","Cracking","Cost at port"],"range":[52,229],"paddingInner":0.3,"paddingOuter":0.15},"axis":{"title":null,"ticks":false,"offset":-133,"labelPadding":100,"labelAlign":"left","labelBaseline":"middle","labelFontSize":13.3,"labelColor":"#3A3A3A","labelLimit":130,"labelLineHeight":16,"domainColor":"#444444","domainWidth":1.5,"labelOffset":{"condition":{"test":"datum.value=='Clean production'","value":-8},"value":0},"labelExpr":"datum.value=='Clean production'?['Clean','production']:datum.label"}},"y2":{"field":"next"}}},
{"mark":{"type":"bar"},"encoding":{"x":{"field":"start","type":"quantitative","axis":null},"x2":{"field":"end"},"y":{"field":"step","type":"nominal","axis":{"title":null}},"color":{"field":"kind","type":"nominal","legend":null,"scale":{"domain":["clean","convert","ship","hatch","light","port"],"range":["#7B7C7E","#1E88A8","#13B5E6","#8CD6F5","#85D3F5","#054A70"]}}}},
{"transform":[{"filter":"datum.kind=='hatch'"}],"mark":{"type":"bar","stroke":"#8CD6F5","strokeWidth":1,"color":{"gradient":"linear","x1":0,"y1":0,"x2":1,"y2":1,"stops":[{"offset":0,"color":"#8CD6F5"},{"offset":0.05,"color":"#8CD6F5"},{"offset":0.05,"color":"#FFFFFF"},{"offset":0.1,"color":"#FFFFFF"},{"offset":0.1,"color":"#8CD6F5"},{"offset":0.15,"color":"#8CD6F5"},{"offset":0.15,"color":"#FFFFFF"},{"offset":0.2,"color":"#FFFFFF"},{"offset":0.2,"color":"#8CD6F5"},{"offset":0.25,"color":"#8CD6F5"},{"offset":0.25,"color":"#FFFFFF"},{"offset":0.3,"color":"#FFFFFF"},{"offset":0.3,"color":"#8CD6F5"},{"offset":0.35,"color":"#8CD6F5"},{"offset":0.35,"color":"#FFFFFF"},{"offset":0.4,"color":"#FFFFFF"},{"offset":0.4,"color":"#8CD6F5"},{"offset":0.45,"color":"#8CD6F5"},{"offset":0.45,"color":"#FFFFFF"},{"offset":0.5,"color":"#FFFFFF"},{"offset":0.5,"color":"#8CD6F5"},{"offset":0.55,"color":"#8CD6F5"},{"offset":0.55,"color":"#FFFFFF"},{"offset":0.6,"color":"#FFFFFF"},{"offset":0.6,"color":"#8CD6F5"},{"offset":0.65,"color":"#8CD6F5"},{"offset":0.65,"color":"#FFFFFF"},{"offset":0.7,"color":"#FFFFFF"},{"offset":0.7,"color":"#8CD6F5"},{"offset":0.75,"color":"#8CD6F5"},{"offset":0.75,"color":"#FFFFFF"},{"offset":0.8,"color":"#FFFFFF"},{"offset":0.8,"color":"#8CD6F5"},{"offset":0.85,"color":"#8CD6F5"},{"offset":0.85,"color":"#FFFFFF"},{"offset":0.9,"color":"#FFFFFF"},{"offset":0.9,"color":"#8CD6F5"},{"offset":0.95,"color":"#8CD6F5"},{"offset":0.95,"color":"#FFFFFF"},{"offset":1,"color":"#FFFFFF"}]}},"encoding":{"x":{"field":"start","type":"quantitative","axis":null},"x2":{"field":"end"},"y":{"field":"step","type":"nominal","axis":{"title":null}}}},
{"transform":[{"filter":"datum.kind=='hatch'"}],"mark":{"type":"bar","color":"white","size":15},"encoding":{"x":{"field":"start","type":"quantitative","axis":null},"x2":{"field":"end"},"y":{"field":"step","type":"nominal","axis":{"title":null}}}},
{"transform":[{"filter":"datum.place=='out'"}],"mark":{"type":"rule","color":"#333333","strokeWidth":1.3,"xOffset":-4,"x2Offset":9},"encoding":{"x":{"field":"start","type":"quantitative","axis":null},"x2":{"field":"start"},"y":{"field":"step","type":"nominal","axis":{"title":null}}}},
{"transform":[{"filter":"datum.place=='out'"}],"mark":{"type":"text","align":"right","baseline":"middle","dx":-6,"fontSize":13},"encoding":{"x":{"field":"start","type":"quantitative","axis":null},"y":{"field":"step","type":"nominal","axis":{"title":null}},"text":{"field":"label"},"color":{"condition":{"test":"datum.step=='Shipping'","value":"#22495C"},"value":"#333333"}}},
{"transform":[{"filter":"datum.place=='in'"}],"mark":{"type":"text","align":"center","baseline":"middle","fontSize":13,"color":"#E8E8E8"},"encoding":{"x":{"field":"mid","type":"quantitative","axis":null},"y":{"field":"step","type":"nominal","axis":{"title":null}},"text":{"field":"label"}}},
{"transform":[{"filter":"datum.place=='dark'"}],"mark":{"type":"text","align":"center","baseline":"middle","fontSize":13,"color":"#333333"},"encoding":{"x":{"field":"mid","type":"quantitative","axis":null},"y":{"field":"step","type":"nominal","axis":{"title":null}},"text":{"field":"label"}}},
{"transform":[{"filter":"datum.total"}],"mark":{"type":"text","align":"left","baseline":"middle","dx":5,"fontSize":12.8,"fontWeight":"bold","color":"#222222"},"encoding":{"x":{"field":"end","type":"quantitative","axis":null},"y":{"field":"step","type":"nominal","axis":{"title":null}},"text":{"field":"total"}}},
{"data":{"values":[{"x":6.202}]},"mark":{"type":"rule","color":"#555555","strokeWidth":1.5},"encoding":{"x":{"field":"x","type":"quantitative","axis":null}}}
]
},
{
"width":341,"height":239,
"data":{"values":[
{"step":"Clean production","start":0,"end":1.5,"mid":0.75,"kind":"clean","label":"1.5","place":"in","next":"Liquefaction"},
{"step":"Liquefaction","start":1.52,"end":2.33,"mid":1.925,"kind":"convert","label":"0.7–1.0","place":"out","next":"Shipping"},
{"step":"Shipping","start":2.36,"end":3.33,"mid":2.845,"kind":"ship","label":"1.0–1.2","place":"out","next":"Import terminal"},
{"step":"Import terminal","start":3.35,"end":3.53,"mid":3.44,"kind":"ship","label":"0.2","place":"out","next":"Cost at port"},
{"step":"Cost at port","start":0,"end":1.5,"mid":0.75,"kind":"clean","label":"1.5","place":"in"},
{"step":"Cost at port","start":1.52,"end":3.53,"mid":2.525,"kind":"port","label":"1.9–2.4","place":"in","total":"3.2–3.8"}
]},
"layer":[
{"transform":[{"filter":"datum.next"}],"mark":{"type":"rule","color":"#D9DADC","strokeWidth":1.5},"encoding":{"x":{"field":"end","type":"quantitative","axis":null,"scale":{"domain":[-2.775,5.75],"nice":false,"zero":false}},"y":{"field":"step","type":"nominal","scale":{"domain":["Clean production","Liquefaction","Shipping","Import terminal","Cost at port"],"range":[52,229],"paddingInner":0.3,"paddingOuter":0.15},"axis":{"title":null,"ticks":false,"offset":-111,"labelPadding":97,"labelAlign":"left","labelBaseline":"middle","labelFontSize":13.3,"labelColor":"#3A3A3A","labelLimit":130,"labelLineHeight":16,"domainColor":"#444444","domainWidth":1.5,"labelOffset":{"condition":{"test":"datum.value=='Clean production'","value":-8},"value":0},"labelExpr":"datum.value=='Clean production'?['Clean','production']:datum.label"}},"y2":{"field":"next"}}},
{"mark":{"type":"bar"},"encoding":{"x":{"field":"start","type":"quantitative","axis":null},"x2":{"field":"end"},"y":{"field":"step","type":"nominal","axis":{"title":null}},"color":{"field":"kind","type":"nominal","legend":null,"scale":{"domain":["clean","convert","ship","hatch","light","port"],"range":["#7B7C7E","#1E88A8","#13B5E6","#8CD6F5","#85D3F5","#054A70"]}}}},
{"transform":[{"filter":"datum.place=='out'"}],"mark":{"type":"rule","color":"#333333","strokeWidth":1.3,"xOffset":-4,"x2Offset":9},"encoding":{"x":{"field":"start","type":"quantitative","axis":null},"x2":{"field":"start"},"y":{"field":"step","type":"nominal","axis":{"title":null}}}},
{"transform":[{"filter":"datum.place=='out'"}],"mark":{"type":"text","align":"right","baseline":"middle","dx":-6,"fontSize":13},"encoding":{"x":{"field":"start","type":"quantitative","axis":null},"y":{"field":"step","type":"nominal","axis":{"title":null}},"text":{"field":"label"},"color":{"condition":{"test":"datum.step=='Shipping'","value":"#22495C"},"value":"#333333"}}},
{"transform":[{"filter":"datum.place=='in'"}],"mark":{"type":"text","align":"center","baseline":"middle","fontSize":13,"color":"#E8E8E8"},"encoding":{"x":{"field":"mid","type":"quantitative","axis":null},"y":{"field":"step","type":"nominal","axis":{"title":null}},"text":{"field":"label"}}},
{"transform":[{"filter":"datum.total"}],"mark":{"type":"text","align":"left","baseline":"middle","dx":5,"fontSize":12.8,"fontWeight":"bold","color":"#222222"},"encoding":{"x":{"field":"end","type":"quantitative","axis":null},"y":{"field":"step","type":"nominal","axis":{"title":null}},"text":{"field":"total"}}},
{"data":{"values":[{"x":5.75}]},"mark":{"type":"rule","color":"#555555","strokeWidth":1.5},"encoding":{"x":{"field":"x","type":"quantitative","axis":null}}}
]
},
{
"width":346,"height":239,
"data":{"values":[
{"step":"Clean production","start":0,"end":1.7,"mid":0.85,"kind":"clean","label":"1.7","place":"in","next":"Hydrogenation"},
{"step":"Hydrogenation","start":1.72,"end":2.1,"mid":1.91,"kind":"convert","label":"0.3–0.5","place":"out","next":"Shipping"},
{"step":"Shipping","start":2.14,"end":2.47,"mid":2.305,"kind":"ship","label":"0.3–0.4","place":"out","next":"Dehydrogenation"},
{"step":"Dehydrogenation","start":2.5,"end":4.0,"mid":3.25,"kind":"light","label":"1.2–1.8¹","place":"dark","next":"Cost at port"},
{"step":"Cost at port","start":0,"end":1.7,"mid":0.85,"kind":"clean","label":"1.7","place":"in"},
{"step":"Cost at port","start":1.72,"end":3.97,"mid":2.845,"kind":"port","label":"1.8–2.7","place":"in","total":"3.5–4.4"}
]},
"layer":[
{"transform":[{"filter":"datum.next"}],"mark":{"type":"rule","color":"#D9DADC","strokeWidth":1.5},"encoding":{"x":{"field":"end","type":"quantitative","axis":null,"scale":{"domain":[-3.071,5.711],"nice":false,"zero":false}},"y":{"field":"step","type":"nominal","scale":{"domain":["Clean production","Hydrogenation","Shipping","Dehydrogenation","Cost at port"],"range":[52,229],"paddingInner":0.3,"paddingOuter":0.15},"axis":{"title":null,"ticks":false,"offset":-121,"labelPadding":110,"labelAlign":"left","labelBaseline":"middle","labelFontSize":13.3,"labelColor":"#3A3A3A","labelLimit":130,"labelLineHeight":16,"domainColor":"#444444","domainWidth":1.5,"labelOffset":{"condition":{"test":"datum.value=='Clean production'","value":-8},"value":0},"labelExpr":"datum.value=='Clean production'?['Clean','production']:datum.label"}},"y2":{"field":"next"}}},
{"mark":{"type":"bar"},"encoding":{"x":{"field":"start","type":"quantitative","axis":null},"x2":{"field":"end"},"y":{"field":"step","type":"nominal","axis":{"title":null}},"color":{"field":"kind","type":"nominal","legend":null,"scale":{"domain":["clean","convert","ship","hatch","light","port"],"range":["#7B7C7E","#1E88A8","#13B5E6","#8CD6F5","#85D3F5","#054A70"]}}}},
{"transform":[{"filter":"datum.place=='out'"}],"mark":{"type":"rule","color":"#333333","strokeWidth":1.3,"xOffset":-4,"x2Offset":9},"encoding":{"x":{"field":"start","type":"quantitative","axis":null},"x2":{"field":"start"},"y":{"field":"step","type":"nominal","axis":{"title":null}}}},
{"transform":[{"filter":"datum.place=='out'"}],"mark":{"type":"text","align":"right","baseline":"middle","dx":-6,"fontSize":13},"encoding":{"x":{"field":"start","type":"quantitative","axis":null},"y":{"field":"step","type":"nominal","axis":{"title":null}},"text":{"field":"label"},"color":{"condition":{"test":"datum.step=='Shipping'","value":"#22495C"},"value":"#333333"}}},
{"transform":[{"filter":"datum.place=='in'"}],"mark":{"type":"text","align":"center","baseline":"middle","fontSize":13,"color":"#E8E8E8"},"encoding":{"x":{"field":"mid","type":"quantitative","axis":null},"y":{"field":"step","type":"nominal","axis":{"title":null}},"text":{"field":"label"}}},
{"transform":[{"filter":"datum.place=='dark'"}],"mark":{"type":"text","align":"center","baseline":"middle","fontSize":13,"color":"#333333"},"encoding":{"x":{"field":"mid","type":"quantitative","axis":null},"y":{"field":"step","type":"nominal","axis":{"title":null}},"text":{"field":"label"}}},
{"transform":[{"filter":"datum.total"}],"mark":{"type":"text","align":"left","baseline":"middle","dx":5,"fontSize":12.8,"fontWeight":"bold","color":"#222222"},"encoding":{"x":{"field":"end","type":"quantitative","axis":null},"y":{"field":"step","type":"nominal","axis":{"title":null}},"text":{"field":"total"}}}
]
}
],
"spacing":0,
"bounds":"flush",
"resolve":{"scale":{"color":"independent"}}
},
{
"width":1060,"height":329,
"projection":{"type":"identity","reflectY":true,"scale":2,"translate":[530,380]},
"layer":[
{"data":{"values":[{"t":"1.","lon":-248.5,"lat":50},{"t":"Dependent on whether hydrogen feedstock or heat from grid is used for dehydrogenation heating requirement","lon":-237.5,"lat":50}]},"mark":{"type":"text","align":"left","baseline":"middle","fontSize":13.2,"color":"#333333"},"encoding":{"longitude":{"field":"lon","type":"quantitative"},"latitude":{"field":"lat","type":"quantitative"},"text":{"field":"t"}}}
]
}
]
}
